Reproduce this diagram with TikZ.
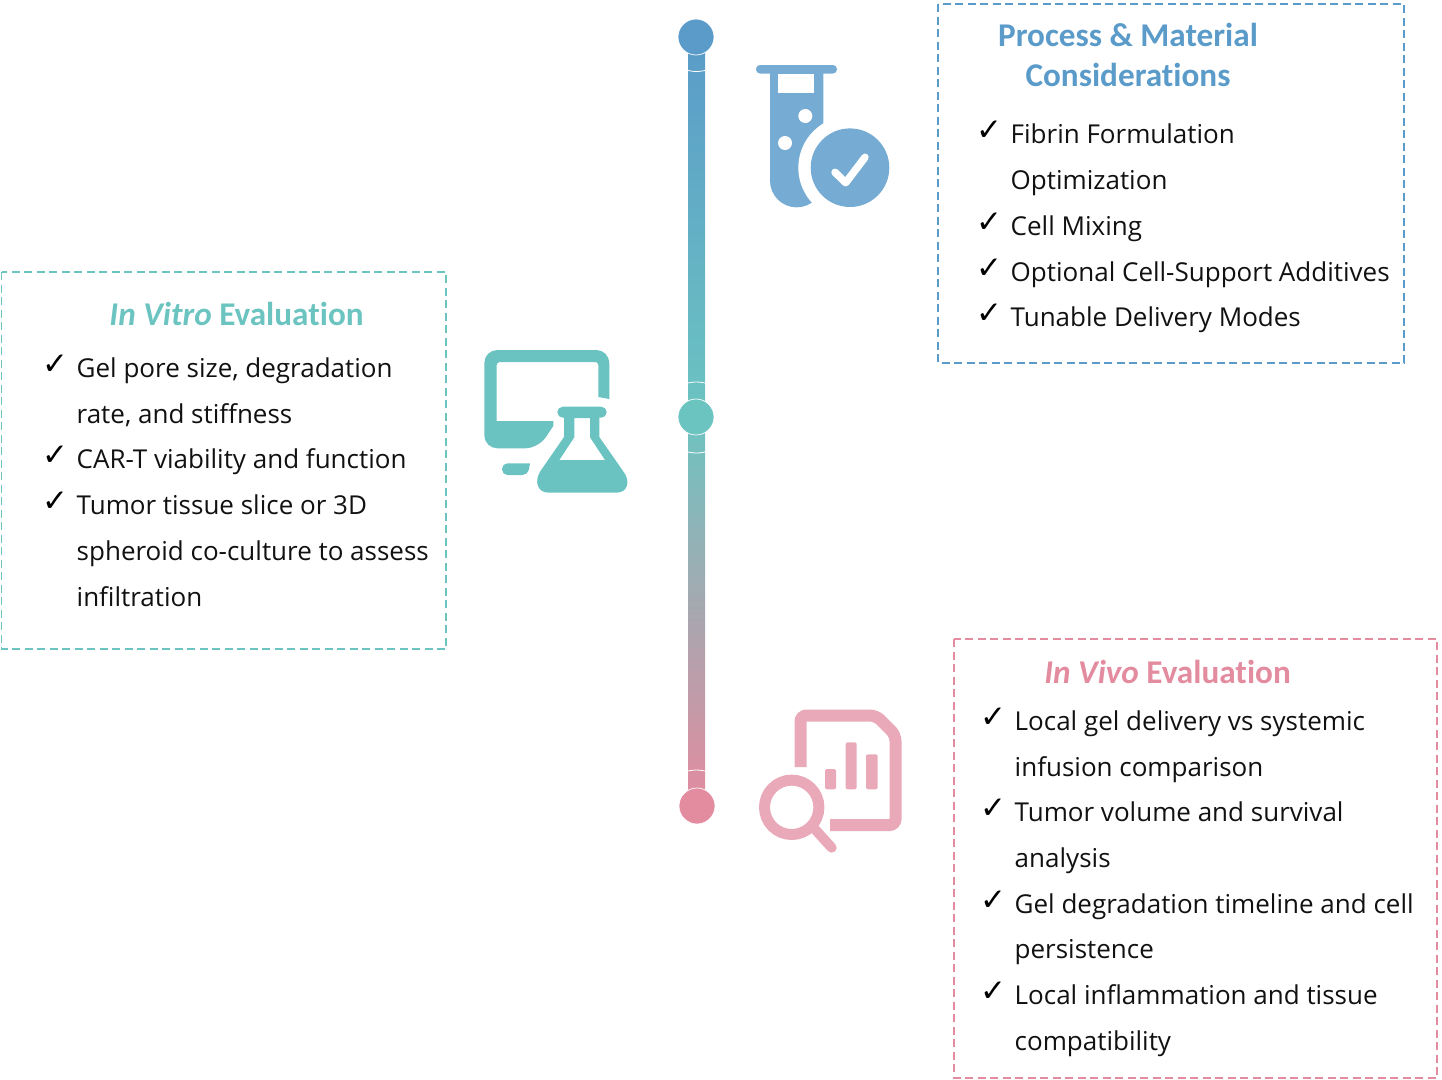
\documentclass[tikz,border=0pt]{standalone}
\usepackage{xcolor}
\usepackage{fontspec}
\setmainfont{Open Sans}
\newfontfamily\titlefont[Ligatures=NoCommon]{Carlito}
\newfontfamily\checkfont{DejaVu Sans}

\definecolor{barblue}{HTML}{5A9BC9}
\definecolor{barteal}{HTML}{6CC4C1}
\definecolor{barpink}{HTML}{E38B9F}
\definecolor{iconblue}{HTML}{76ACD3}
\definecolor{iconteal}{HTML}{6AC2C1}
\definecolor{iconpink}{HTML}{EAA9B9}
\definecolor{inktext}{HTML}{111111}

\tikzset{
	itemtext/.style={anchor=base west, inner sep=0pt, text=inktext, font=\fontsize{26}{30}\selectfont},
	itemcheck/.style={anchor=base west, inner sep=0pt, text=black, font=\checkfont\fontsize{31}{32}\selectfont},
	headtext/.style={anchor=base, inner sep=0pt, font=\titlefont\bfseries\fontsize{33.2}{36}\selectfont},
	dashbox/.style={line width=1.8pt, dash pattern=on 8pt off 4.5pt},
	dotnode/.style={circle, minimum size=36pt, inner sep=0pt, draw=white, line width=0.7pt},
	seamline/.style={white, line width=0.8pt}
}

\begin{document}
\begin{tikzpicture}[x=1pt,y=-1pt]

	\useasboundingbox (0,0) rectangle (1442,1079);

	% timeline bar
	\shade [top color=barblue, bottom color=barteal] (688,37) rectangle (705,417);
	\shade [top color=barteal, bottom color=barpink] (688,417) rectangle (705,806);

	\draw [seamline] (688,70.5) to[bend right=12] (705,70.5);
	\draw [seamline] (688,383) to[bend left=12] (705,383);
	\draw [seamline] (688,452) to[bend right=12] (705,452);
	\draw [seamline] (688,771) to[bend left=12] (705,771);

	\node [dotnode, fill=barblue] (dottop) at (696,37) {};
	\node [dotnode, fill=barteal] (dotmid) at (696,417) {};
	\node [dotnode, fill=barpink] (dotbot) at (697,806) {};

	% test tube icon
	\fill [iconblue] (770,70) -- (823.3,70) -- (823.3,180.7) arc (0:180:26.65) -- cycle;
	\fill [iconblue, rounded corners=4pt] (756,65) rectangle (837,73.5);
	\fill [white] (778.3,74) rectangle (814.3,93.3);
	\fill [white] (805.3,116) circle (7);
	\fill [white] (785,143) circle (7);
	\fill [white] (850,167.7) circle (51.7);
	\fill [iconblue] (850,167.7) circle (39.3);
	\draw [white, line width=7.5pt, line cap=round, line join=round] (835,172.3) -- (845.7,182.7) -- (865,157.3);

	% monitor and flask icon
	\fill [iconteal, even odd rule, rounded corners=13pt] (609.3,399) -- (609.3,350) -- (484.3,350) -- (484.3,448.3) -- (538.3,448.3) [sharp corners] -- (553.3,426) -- (553.3,421) -- (496.7,421) [rounded corners=3pt] -- (496.7,362) -- (598.3,362) [sharp corners] -- (598.3,397) -- cycle;
	\fill [iconteal, rounded corners=5.5pt] (530,463.3) -- (502,463.3) -- (502,475) -- (528,475) [sharp corners] -- (530,463.3) -- cycle;
	\fill [iconteal, even odd rule] (564,412) -- (564,437) -- (540.5,471) .. controls (534,481) and (537,492.7) .. (549,492.7) -- (616,492.7) .. controls (628,492.7) and (631,481) .. (623,471) -- (599.3,437) -- (599.3,412) -- cycle
		(574.3,418) -- (574.3,437.3) -- (559.3,460) -- (605,460) -- (590,437.3) -- (590,418) -- cycle;
	\fill [iconteal, rounded corners=5.5pt] (557.3,406.7) rectangle (606.7,417.7);

	% report and magnifier icon
	\draw [iconpink, line width=12pt, rounded corners=6pt] (800.5,767) -- (800.5,715.5) -- (876,715.5) -- (895.5,735) -- (895.5,825) -- (830,825);
	\fill [iconpink, rounded corners=2pt] (825,769) rectangle (836,789.3);
	\fill [iconpink, rounded corners=2pt] (845.7,742.3) rectangle (856.7,789.3);
	\fill [iconpink, rounded corners=2pt] (866,754.3) rectangle (877.7,789.3);
	\draw [iconpink, line width=11pt] (791.7,807.3) circle (27.2);
	\draw [iconpink, line width=10pt, line cap=round] (815,829.3) -- (831.7,847.7);

	% process box
	\draw [barblue, dashbox] (938,4) rectangle (1404,363);
	\node [headtext, text=barblue] (prochead) at (1128,46.5) {Process \& Material};
	\node [headtext, text=barblue] (prochead2) at (1128,86.5) {Considerations};
	\node [itemcheck] (pc1) at (976,140) {✓};
	\node [itemtext] (p1) at (1010.5,143) {Fibrin Formulation};
	\node [itemtext] (p1b) at (1010.5,189) {Optimization};
	\node [itemcheck] (pc2) at (976,232) {✓};
	\node [itemtext] (p2) at (1010.5,235) {Cell Mixing};
	\node [itemcheck] (pc3) at (976,278) {✓};
	\node [itemtext] (p3) at (1010.5,281) {Optional Cell-Support Additives};
	\node [itemcheck] (pc4) at (976,323) {✓};
	\node [itemtext] (p4) at (1010.5,326) {Tunable Delivery Modes};

	% in vitro box
	\draw [barteal, dashbox] (1.5,272) rectangle (446,649);
	\node [headtext, text=barteal] (vitrohead) at (236.5,325.5) {\itshape In Vitro \upshape Evaluation};
	\node [itemcheck] (vc1) at (42,374) {✓};
	\node [itemtext] (v1) at (76.5,377) {Gel pore size, degradation};
	\node [itemtext] (v1b) at (76.5,423) {rate, and stiffness};
	\node [itemcheck] (vc2) at (42,465) {✓};
	\node [itemtext] (v2) at (76.5,468) {CAR-T viability and function};
	\node [itemcheck] (vc3) at (42,511) {✓};
	\node [itemtext] (v3) at (76.5,514) {Tumor tissue slice or 3D};
	\node [itemtext] (v3b) at (76.5,560) {spheroid co-culture to assess};
	\node [itemtext] (v3c) at (76.5,606) {infiltration};

	% in vivo box
	\draw [barpink, dashbox] (954,639) rectangle (1437,1078);
	\node [headtext, text=barpink] (vivohead) at (1167.5,683.5) {\itshape In Vivo \upshape Evaluation};
	\node [itemcheck] (ic1) at (980,727) {✓};
	\node [itemtext] (i1) at (1014.5,730) {Local gel delivery vs systemic};
	\node [itemtext] (i1b) at (1014.5,776) {infusion comparison};
	\node [itemcheck] (ic2) at (980,818) {✓};
	\node [itemtext] (i2) at (1014.5,821) {Tumor volume and survival};
	\node [itemtext] (i2b) at (1014.5,867) {analysis};
	\node [itemcheck] (ic3) at (980,910) {✓};
	\node [itemtext] (i3) at (1014.5,913) {Gel degradation timeline and cell};
	\node [itemtext] (i3b) at (1014.5,958) {persistence};
	\node [itemcheck] (ic4) at (980,1001) {✓};
	\node [itemtext] (i4) at (1014.5,1004) {Local inflammation and tissue};
	\node [itemtext] (i4b) at (1014.5,1050) {compatibility};

\end{tikzpicture}
\end{document}
